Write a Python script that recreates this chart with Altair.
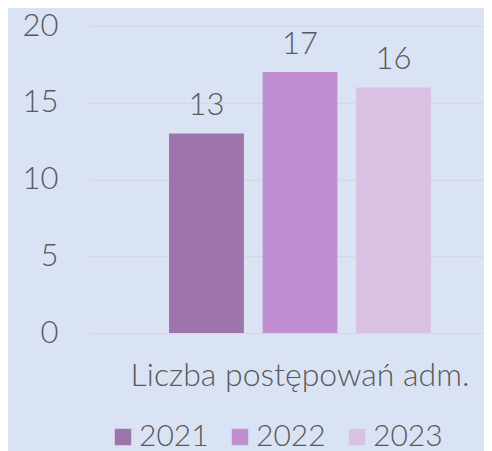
import altair as alt
import pandas as pd

category = ["Liczba postępowań adm."]
years = ["2021", "2022", "2023"]
values = [13, 17, 16]
colors = ["#9d74ab", "#c08fd1", "#d9c1e3"]

df = pd.DataFrame({
    "cat": category * 3,
    "year": years,
    "value": values,
})

FONT = "Lato"
TXT = "#595959"

base = alt.Chart(df).encode(
    x=alt.X("cat:N", title=None,
            scale=alt.Scale(paddingInner=0, paddingOuter=0.254, align=0.6015),
            axis=alt.Axis(labelAngle=0, labelFontSize=32, labelFont=FONT, labelFontWeight=300,
                          labelColor=TXT, ticks=False, domain=False, labelPadding=27,
                          labelLimit=500)),
    xOffset=alt.XOffset("year:N", scale=alt.Scale(paddingInner=0.2, paddingOuter=0)),
)

bars = base.mark_bar().encode(
    y=alt.Y("value:Q", title=None,
            scale=alt.Scale(domain=[0, 20], nice=False),
            axis=alt.Axis(values=[0, 5, 10, 15, 20], labelFontSize=31, labelFont=FONT,
                          labelFontWeight=300, labelColor=TXT, ticks=False, domain=False,
                          labelPadding=31, gridColor="#d5d8df", gridWidth=1.6)),
    color=alt.Color("year:N", scale=alt.Scale(domain=years, range=colors),
                    legend=alt.Legend(title=None, orient="none", direction="horizontal",
                                      legendX=19, legendY=396, symbolType="square",
                                      symbolSize=270, symbolStrokeWidth=0,
                                      labelFontSize=30, labelFont=FONT, labelFontWeight=300,
                                      labelColor=TXT, labelOffset=1, columnPadding=16)),
)

labels = base.mark_text(baseline="alphabetic", dy=-18, fontSize=31, font=FONT,
                        fontWeight=300, color=TXT).encode(
    y=alt.Y("value:Q"),
    text=alt.Text("value:Q"),
)

chart = (bars + labels).properties(
    width=395, height=307,
    background="#dae3f4",
    autosize=alt.AutoSizeParams(type="none"),
    padding={"left": 81, "top": 18, "right": 0, "bottom": 118},
).configure_view(stroke=None)

chart.save("out.html", embed_options={"renderer": "svg", "actions": False})
